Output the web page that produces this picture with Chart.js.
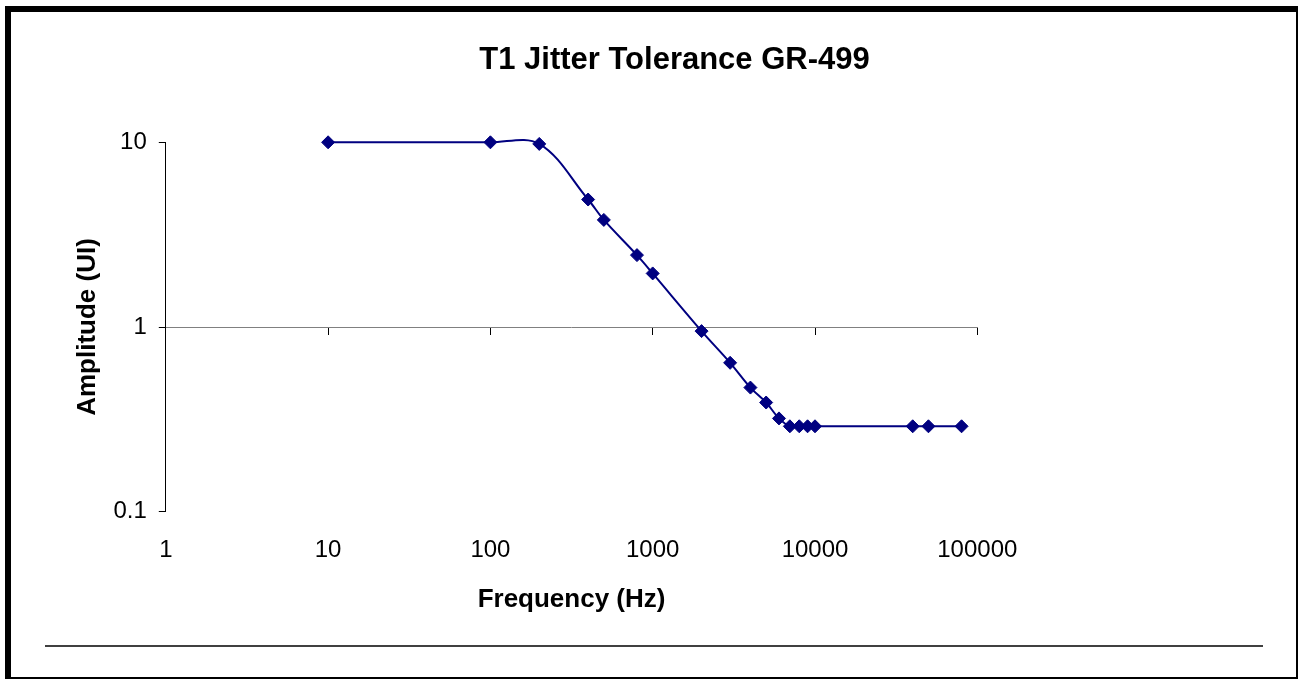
<!DOCTYPE html>
<html>
<head>
<meta charset="utf-8">
<title>T1 Jitter Tolerance GR-499</title>
<script src="https://cdn.jsdelivr.net/npm/chart.js@4/dist/chart.umd.min.js"></script>
<style>
  html, body { margin: 0; padding: 0; background: #fff; }
  canvas { display: block; }
</style>
</head>
<body>
<canvas id="chart" width="1299" height="680"></canvas>
<script>
// Jitter tolerance mask points (frequency in Hz, amplitude in UI)
const frequencies = [10, 100, 200, 400, 500, 800, 1000, 2000, 3000, 4000, 5000, 6000, 7000, 8000, 9000, 10000, 40000, 50000, 80000];
const amplitudes  = [10, 10, 9.8, 4.9, 3.8, 2.45, 1.95, 0.95, 0.64, 0.47, 0.39, 0.32, 0.29, 0.29, 0.29, 0.29, 0.29, 0.29, 0.29];

// Decade tick marks on both axes
const xTicks = [1, 10, 100, 1000, 10000, 100000];
const yTicks = [0.1, 1, 10];

const FONT = "'Liberation Sans', Arial, sans-serif";
const NAVY = '#000080';

const points = frequencies.map((f, i) => ({ x: f, y: amplitudes[i] }));

// White page, outer frame and the rule under the plot
const framePlugin = {
  id: 'frame',
  beforeDraw(chart) {
    const { ctx, width, height } = chart;
    ctx.save();
    ctx.fillStyle = '#fff';
    ctx.fillRect(0, 0, width, height);
    ctx.restore();
  },
  afterDraw(chart) {
    const ctx = chart.ctx;
    ctx.save();
    ctx.fillStyle = '#000';
    ctx.fillRect(5, 6, 1292, 6);
    ctx.fillRect(5, 6, 6, 673);
    ctx.fillRect(1296, 6, 2, 673);
    ctx.fillRect(5, 677, 1293, 2);
    ctx.fillStyle = '#404040';
    ctx.fillRect(45, 645, 1218, 2);
    ctx.restore();
  }
};

const setTicks = list => scale => { scale.ticks = list.map(v => ({ value: v })); };

new Chart(document.getElementById('chart'), {
  type: 'line',
  data: {
    datasets: [{
      data: points,
      xAxisID: 'x',
      yAxisID: 'y',
      borderColor: NAVY,
      backgroundColor: NAVY,
      borderWidth: 2,
      tension: 0.35,
      capBezierPoints: false,
      pointStyle: 'rectRot',
      pointRadius: 6.5,
      pointBorderWidth: 1,
      pointBackgroundColor: NAVY,
      pointBorderColor: NAVY,
      clip: false,
      fill: false
    }]
  },
  options: {
    responsive: false,
    animation: false,
    events: [],
    layout: { padding: { left: 60, right: 10, top: 20, bottom: 40 } },
    plugins: {
      legend: { display: false },
      tooltip: { enabled: false },
      title: {
        display: true,
        text: 'T1 Jitter Tolerance GR-499',
        color: '#000',
        font: { family: FONT, size: 31, weight: 'bold' },
        padding: { top: 21.4, bottom: 63.7 }
      }
    },
    scales: {
      // axis line crossing at amplitude 1, tick marks only
      x: {
        type: 'logarithmic',
        axis: 'x',
        position: { y: 1 },
        min: 1,
        max: 100000,
        afterBuildTicks: setTicks(xTicks),
        ticks: { display: false },
        grid: { drawOnChartArea: false, drawTicks: true, tickLength: 7, color: '#000' },
        border: { color: '#808080', width: 1 }
      },
      // frequency labels and axis title along the bottom
      xb: {
        type: 'logarithmic',
        axis: 'x',
        position: 'bottom',
        min: 1,
        max: 100000,
        afterBuildTicks: setTicks(xTicks),
        afterFit: scale => { scale.height = 128.3; },
        grid: { display: false, drawTicks: false },
        border: { display: false },
        ticks: {
          autoSkip: false,
          maxRotation: 0,
          padding: 23.9,
          color: '#000',
          font: { family: FONT, size: 24 },
          callback: v => String(v)
        },
        title: {
          display: true,
          text: 'Frequency (Hz)',
          color: '#000',
          font: { family: FONT, size: 26, weight: 'bold' },
          padding: { top: 20, bottom: 24.4 }
        }
      },
      y: {
        type: 'logarithmic',
        position: 'left',
        min: 0.1,
        max: 10,
        afterBuildTicks: setTicks(yTicks),
        afterFit: scale => { scale.width = 105.8; },
        grid: { drawOnChartArea: false, drawTicks: true, tickLength: 7, color: '#000' },
        border: { color: '#000', width: 1 },
        ticks: {
          padding: 12,
          color: '#000',
          font: { family: FONT, size: 24 },
          callback: v => String(v)
        },
        title: {
          display: true,
          text: 'Amplitude (UI)',
          color: '#000',
          font: { family: FONT, size: 26, weight: 'bold' },
          padding: { top: 12.4, bottom: 0 }
        }
      },
      // empty space to the right of the plot
      y2: {
        type: 'linear',
        axis: 'y',
        position: 'right',
        afterFit: scale => { scale.width = 311.7; },
        grid: { display: false, drawTicks: false },
        border: { display: false },
        ticks: { display: false }
      }
    }
  },
  plugins: [framePlugin]
});
</script>
</body>
</html>
